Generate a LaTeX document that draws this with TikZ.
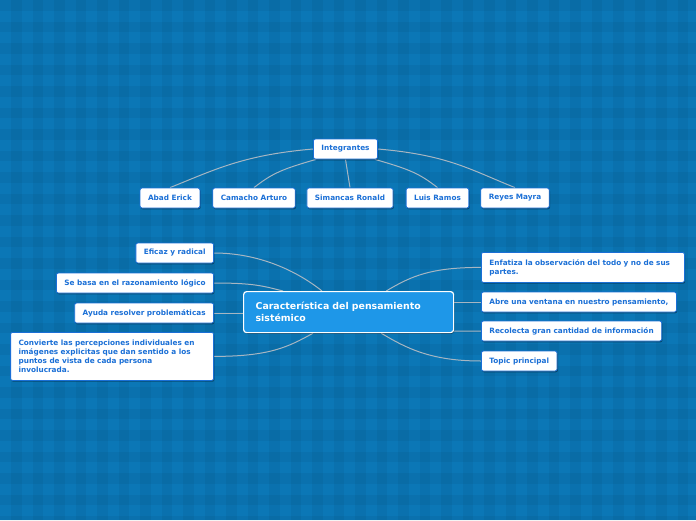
\documentclass[tikz,border=0pt]{standalone}
\usepackage{fontspec}
\setmainfont{DejaVu Sans}
\usetikzlibrary{shadows,calc}
\definecolor{bgblue}{HTML}{0B77B6}
\definecolor{nodeblue}{HTML}{1A6FD6}
\definecolor{cfill}{HTML}{1E97E8}
\definecolor{linkgray}{HTML}{A7B6C2}
\pgfdeclarelayer{bglayer}
\pgfdeclarelayer{linklayer}
\pgfsetlayers{bglayer,linklayer,main}
\begin{document}
\begin{tikzpicture}[x=1pt,y=-1pt,
  leaf/.style={draw=nodeblue, line width=0.8pt, fill=white, rounded corners=2pt,
    text=nodeblue, font=\bfseries\fontsize{7.3}{9}\selectfont, inner xsep=8pt, inner ysep=0pt,
    minimum height=20pt,
    drop shadow={shadow xshift=0.8pt, shadow yshift=-1.3pt, fill=black, opacity=0.35}},
  central/.style={draw=white, line width=1.2pt, fill=cfill, rounded corners=3pt,
    text=white, font=\bfseries\fontsize{9.4}{12}\selectfont, inner xsep=12pt, inner ysep=0pt,
    align=left, text width=186pt, minimum height=41pt,
    drop shadow={shadow xshift=0.8pt, shadow yshift=-1.3pt, fill=black, opacity=0.35}},
  link/.style={draw=linkgray, line width=1pt}]
\useasboundingbox (0,0) rectangle (696,520);
% background with plaid pattern
\begin{pgfonlayer}{bglayer}
\begin{scope}
\clip (0,0) rectangle (696,520);
\fill[bgblue] (0,0) rectangle (696,520);
\foreach \i in {0,...,32} {
  \fill[black, opacity=0.045] ({11+21.5*\i},0) rectangle ({21.5+21.5*\i},520);
}
\foreach \j in {0,...,24} {
  \fill[black, opacity=0.045] (0,{21.5*\j}) rectangle (696,{10.5+21.5*\j});
}
\end{scope}
\end{pgfonlayer}

% top group
\node[leaf] (int) at (345.5,149) {Integrantes};
\node[leaf] (abad) at (170,198) {Abad Erick};
\node[leaf] (cam) at (254,198) {Camacho Arturo};
\node[leaf] (sim) at (350,198) {Simancas Ronald};
\node[leaf] (luis) at (437.5,198) {Luis Ramos};
\node[leaf] (rey) at (515,198) {Reyes Mayra};

% central
\node[central, anchor=north west, minimum width=210pt] (cen) at (243,291)
  {Característica del pensamiento\\sistémico};

% left
\node[leaf, anchor=east] (efi) at (214,253) {Eficaz y radical};
\node[leaf, anchor=east] (se) at (214,283) {Se basa en el razonamiento lógico};
\node[leaf, anchor=east] (ay) at (214,313) {Ayuda resolver problemáticas};
\node[leaf, anchor=north east, text width=187pt, align=left, minimum height=48pt] (conv) at (214,332)
  {Convierte las percepciones individuales en\\imágenes explicitas que dan sentido a los\\puntos de vista de cada persona\\involucrada.};

% right
\node[leaf, anchor=north west, text width=187pt, align=left, minimum height=30pt] (enf) at (481,252)
  {Enfatiza la observación del todo y no de sus\\partes.};
\node[leaf, anchor=west] (abre) at (481,302) {Abre una ventana en nuestro pensamiento,};
\node[leaf, anchor=west] (rec) at (481,331) {Recolecta gran cantidad de información};
\node[leaf, anchor=west] (top) at (481,361) {Topic principal};

% connectors
\begin{pgfonlayer}{linklayer}
\path[link] (int.west) .. controls +(-70,6) and +(45,-18) .. (abad.north);
\path[link] ([xshift=3pt]int.south west) .. controls +(-35,10) and +(18,-14) .. (cam.north);
\path[link] (int.south) -- (sim.north);
\path[link] ([xshift=-3pt]int.south east) .. controls +(35,10) and +(-18,-14) .. (luis.north);
\path[link] (int.east) .. controls +(70,6) and +(-45,-18) .. (rey.north);

\path[link] (efi.east) .. controls +(45,0) and +(-25,-20) .. ([xshift=79pt]cen.north west);
\path[link] (se.east) .. controls +(40,0) and +(-20,-5) .. ([xshift=40pt]cen.north west);
\path[link] (ay.east) -- (ay.east -| cen.west);
\path[link] (conv.east) .. controls +(55,0) and +(-25,14) .. ([xshift=70pt]cen.south west);

\path[link] (enf.west) .. controls +(-50,0) and +(25,-15) .. ([xshift=-68pt]cen.north east);
\path[link] (abre.west) -- (abre.west -| cen.east);
\path[link] (rec.west) -- ([yshift=2pt]cen.south east);
\path[link] (top.west) .. controls +(-50,0) and +(25,15) .. ([xshift=-73pt]cen.south east);
\end{pgfonlayer}
\end{tikzpicture}
\end{document}
